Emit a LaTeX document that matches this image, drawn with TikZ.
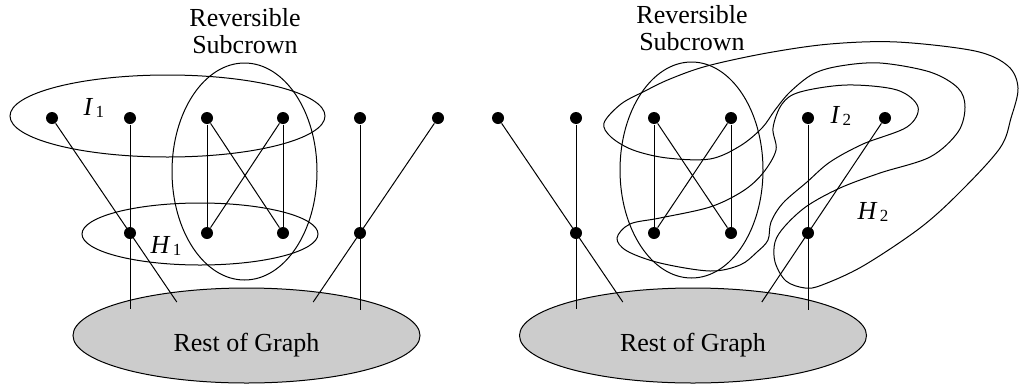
\documentclass[tikz,border=0pt]{standalone}
\usepackage{fontspec}
\setmainfont{Liberation Serif}
\usetikzlibrary{calc,positioning,shapes.geometric}

\newcommand{\setlab}[2]{\textit{#1}\kern2.5pt\raisebox{-2pt}{\fontsize{17}{17}\selectfont #2}}

\tikzset{
  vert/.style={circle,fill=black,inner sep=0pt,minimum size=12pt},
  setring/.style={ellipse,draw,inner sep=0pt},
  rest/.style={ellipse,draw,fill=black!20,inner sep=0pt,minimum width=347pt,minimum height=95pt},
  txt/.style={font=\fontsize{26}{27}\selectfont,inner sep=0pt}
}

\begin{document}
\begin{tikzpicture}[x=1pt,y=-1pt,line width=1pt]
        \useasboundingbox (0,0) rectangle (1019,386);

        % left half: before the reversal
        \node[rest] (restL) at (246.5,335.5) {};
        \node[txt,anchor=base] (restLtext) at (246.5,351) {Rest of Graph};
        \foreach \i/\x in {1/52,2/130,3/207,4/283,5/360,6/438}
            \node[vert] (lt\i) at (\x,118) {};
        \foreach \i/\x in {2/130,3/207,4/283,5/360}
            \node[vert] (lb\i) at (\x,233) {};
        \coordinate (le1) at ($(lt1)!1.6!(lb2)$);
        \coordinate (le2) at (130,309);
        \coordinate (le5) at (360,310);
        \coordinate (le6) at ($(lt6)!1.6!(lb5)$);
        \draw (lt1) -- (le1);
        \draw (lt2) -- (le2);
        \draw (lt3) -- (lb3);
        \draw (lt3) -- (lb4);
        \draw (lt4) -- (lb3);
        \draw (lt4) -- (lb4);
        \draw (lt5) -- (le5);
        \draw (lt6) -- (le6);
        \node[setring,minimum width=315pt,minimum height=82pt] (I1set) at (167.5,116) {};
        \node[setring,minimum width=236pt,minimum height=62pt] (H1set) at (200,234) {};
        \node[setring,minimum width=145pt,minimum height=217pt] (subL) at (244.5,171.5) {};
        \node[txt,anchor=base west] (I1lab) at (83,115) {\setlab{I}{1}};
        \node[txt,anchor=base west] (H1lab) at (150,253) {\setlab{H}{1}};
        \node[txt,align=center,anchor=base] (revL) at (245,53) {Reversible\\Subcrown};

        % right half: after the reversal
        \node[rest] (restR) at (693,335.5) {};
        \node[txt,anchor=base] (restRtext) at (693,351) {Rest of Graph};
        \foreach \i/\x in {1/498,2/576,3/654,4/731,5/808,6/885}
            \node[vert] (rt\i) at (\x,118) {};
        \foreach \i/\x in {2/576,3/654,4/731,5/808}
            \node[vert] (rb\i) at (\x,233) {};
        \coordinate (re1) at ($(rt1)!1.6!(rb2)$);
        \coordinate (re2) at (576,309);
        \coordinate (re5) at (808,310);
        \coordinate (re6) at ($(rt6)!1.6!(rb5)$);
        \draw (rt1) -- (re1);
        \draw (rt2) -- (re2);
        \draw (rt3) -- (rb3);
        \draw (rt3) -- (rb4);
        \draw (rt4) -- (rb3);
        \draw (rt4) -- (rb4);
        \draw (rt5) -- (re5);
        \draw (rt6) -- (re6);
        \node[setring,minimum width=143pt,minimum height=216pt] (subR) at (691.5,170) {};
        \node[txt,align=center,anchor=base] (revR) at (692,50) {Reversible\\Subcrown};
        % H2 after reversal (bent ring)
        \draw plot[smooth cycle,tension=0.55] coordinates {
            (604,123) (621,104) (645,91) (670,79) (707,66) (767,53) (830,44)
            (897,42) (975,51) (1008,66) (1018,88) (1011,118) (1000,148)
            (960,192) (920,228) (863,266) (822,285) (805,288) (786,281)
            (775,262) (775,242) (785,226) (807,206) (840,188) (880,173)
            (930,157) (958,132) (965,107) (958,88) (930,72) (880,63)
            (840,66) (813,74) (790,92) (775,110) (762,128) (740,146)
            (710,159) (667,158) (633,150) (611,137)};
        % I2 after reversal
        \draw plot[smooth cycle,tension=0.55] coordinates {
            (800,92) (847,85) (897,90) (918,107) (907,127) (863,144)
            (830,162) (807,182) (783,203) (771,222) (768,240) (757,252)
            (740,265) (710,271) (660,263) (627,251) (617,238) (630,224)
            (660,218) (710,207) (743,191) (763,173) (776,150) (773,128)
            (782,104)};
        \node[txt,anchor=base west] (I2lab) at (830,123) {\setlab{I}{2}};
        \node[txt,anchor=base west] (H2lab) at (857,219) {\setlab{H}{2}};
\end{tikzpicture}
\end{document}
